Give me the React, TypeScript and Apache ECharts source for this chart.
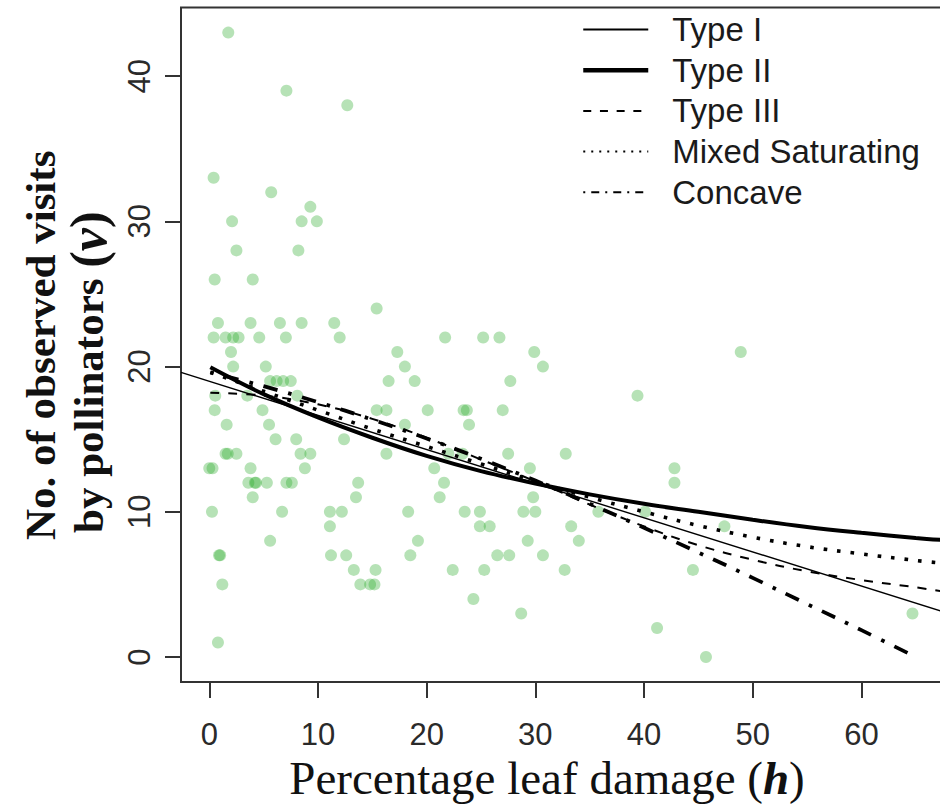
import React, { useEffect, useRef } from "react";
import * as echarts from "echarts";

// Observed data: percentage leaf damage (h) vs visits (v)
const damage = [
  1.75, 7.1, 12.7, 0.4, 5.7, 9.3, 2.1, 8.5, 9.9, 2.5, 8.2, 0.5, 4.0, 15.4,
  0.8, 3.8, 6.5, 8.5, 11.5, 0.4, 1.5, 2.2, 2.7, 4.6, 7.05, 12.0, 21.7, 25.2,
  26.7, 2.0, 17.3, 29.9, 48.9, 2.2, 5.2, 18.0, 30.7, 5.6, 6.2, 6.8, 7.5, 16.5,
  18.9, 27.7, 0.55, 3.5, 8.1, 39.4, 0.5, 4.9, 15.4, 16.3, 20.1, 23.4, 23.7,
  27.0, 1.6, 5.5, 18.0, 23.9, 6.1, 8.0, 12.4, 1.5, 1.7, 2.5, 8.4, 9.3, 16.3,
  22.0, 23.3, 27.5, 32.8, 0.0, 0.3, 3.8, 8.8, 20.7, 29.5, 42.8, 3.6, 4.2, 4.3,
  5.3, 7.1, 7.6, 13.7, 21.6, 42.8, 4.0, 13.5, 21.2, 29.8, 0.25, 6.7, 11.1,
  12.2, 18.3, 23.5, 24.9, 28.9, 30.0, 35.8, 40.1, 11.1, 24.9, 25.8, 33.3,
  47.4, 5.6, 19.2, 29.3, 34.0, 0.9, 1.0, 11.2, 12.6, 18.5, 26.5, 27.6, 30.7,
  13.3, 15.3, 22.4, 25.3, 32.7, 44.5, 1.2, 13.9, 14.8, 15.2, 24.3, 28.7, 64.7,
  41.2, 0.8, 45.7,
];
const visits = [
  43, 39, 38, 33, 32, 31, 30, 30, 30, 28, 28, 26, 26, 24,
  23, 23, 23, 23, 23, 22, 22, 22, 22, 22, 22, 22, 22, 22,
  22, 21, 21, 21, 21, 20, 20, 20, 20, 19, 19, 19, 19, 19,
  19, 19, 18, 18, 18, 18, 17, 17, 17, 17, 17, 17, 17,
  17, 16, 16, 16, 16, 15, 15, 15, 14, 14, 14, 14, 14, 14,
  14, 14, 14, 14, 13, 13, 13, 13, 13, 13, 13, 12, 12, 12,
  12, 12, 12, 12, 12, 12, 11, 11, 11, 11, 10, 10, 10,
  10, 10, 10, 10, 10, 10, 10, 10, 9, 9, 9, 9,
  9, 8, 8, 8, 8, 7, 7, 7, 7, 7, 7, 7, 7,
  6, 6, 6, 6, 6, 6, 5, 5, 5, 5, 4, 3, 3,
  2, 1, 0,
];

// Fitted curves
const typeIH = [-2.6, 67.6];
const typeIV = [19.6, 3.1];
const curveH = [0.1, 5, 10, 15, 20, 25, 30, 35, 40, 45, 50, 55, 60, 65, 67.6];
const typeIIV = [19.95, 18.1, 16.5, 15.1, 13.85, 12.8, 11.95, 11.2, 10.55, 10.0, 9.45, 8.95, 8.55, 8.2, 8.05];
const typeIIIV = [18.2, 18.0, 17.4, 16.4, 15.1, 13.6, 12.1, 10.5, 9.0, 7.7, 6.7, 5.9, 5.3, 4.8, 4.5];
const mixedV = [19.6, 18.3, 17.0, 15.7, 14.5, 13.3, 12.1, 11.0, 10.0, 9.05, 8.25, 7.6, 7.1, 6.65, 6.45];
const concaveH = [0.1, 5, 10, 15, 20, 25, 30, 35, 40, 45, 50, 55, 60, 65];
const concaveV = [19.6, 18.65, 17.55, 16.35, 15.05, 13.65, 12.15, 10.55, 8.9, 7.2, 5.45, 3.65, 1.85, 0.0];

const xTicks = [0, 10, 20, 30, 40, 50, 60];
const yTicks = [0, 10, 20, 30, 40];
const seriesNames = ["Type I", "Type II", "Type III", "Mixed Saturating", "Concave"];

const zip = (a: number[], b: number[]) => a.map((v, i) => [v, b[i]]);

export default function App() {
  const ref = useRef<HTMLDivElement>(null);
  useEffect(() => {
    if (!ref.current) return;
    const chart = echarts.init(ref.current, undefined, { renderer: "svg" });
    const axisColor = "#333";
    const labelFont = { fontFamily: "Liberation Sans", fontSize: 31, color: "#2a2a2a" };
    const lineBase = { type: "line", symbol: "none", showSymbol: false, clip: true, smooth: 0.4 };
    const hidden = { color: "rgba(0,0,0,0)", borderWidth: 0, opacity: 0 };
    chart.setOption({
      animation: false,
      grid: {
        left: 181,
        top: 7.6,
        right: -4,
        bottom: 126,
        show: true,
        borderColor: axisColor,
        borderWidth: 2,
        backgroundColor: "transparent",
        containLabel: false,
        outerBoundsMode: "none",
      },
      xAxis: {
        type: "value",
        min: -2.6,
        max: 67.6,
        axisLine: { show: false, onZero: false },
        splitLine: { show: false },
        axisTick: { show: true, length: 16, customValues: xTicks, lineStyle: { color: axisColor, width: 2 } },
        axisLabel: { ...labelFont, margin: 37, customValues: xTicks },
      },
      yAxis: {
        type: "value",
        min: -1.72,
        max: 44.72,
        axisLine: { show: false, onZero: false },
        splitLine: { show: false },
        axisTick: { show: true, length: 16, customValues: yTicks, lineStyle: { color: axisColor, width: 2 } },
        axisLabel: { ...labelFont, margin: 26, rotate: 90, customValues: yTicks },
      },
      legend: {
        orient: "vertical",
        left: 576,
        top: 8,
        itemWidth: 65,
        itemHeight: 14,
        itemGap: 7.7,
        textStyle: { fontFamily: "Liberation Sans", fontSize: 33, color: "#1a1a1a", padding: [0, 0, 0, 19] },
        data: [
          { name: seriesNames[0], itemStyle: hidden, lineStyle: { width: 2, type: "solid", color: "#000" } },
          { name: seriesNames[1], itemStyle: hidden, lineStyle: { width: 4.5, type: "solid", color: "#000" } },
          { name: seriesNames[2], itemStyle: hidden, lineStyle: { width: 2, type: [8, 8.7], color: "#000" } },
          { name: seriesNames[3], itemStyle: hidden, lineStyle: { width: 2, type: [2, 6], color: "#000" } },
          { name: seriesNames[4], itemStyle: hidden, lineStyle: { width: 2, type: [2, 6, 8, 6], color: "#000" } },
        ],
      },
      series: [
        {
          type: "scatter",
          name: "Observed",
          data: zip(damage, visits),
          symbolSize: 12,
          itemStyle: { color: "rgba(40,170,40,0.42)", borderWidth: 0 },
        },
        { ...lineBase, name: seriesNames[0], data: zip(typeIH, typeIV), smooth: false, lineStyle: { color: "#000", width: 1.4 } },
        { ...lineBase, name: seriesNames[1], data: zip(curveH, typeIIV), lineStyle: { color: "#000", width: 4 } },
        { ...lineBase, name: seriesNames[2], data: zip(curveH, typeIIIV), lineStyle: { color: "#000", width: 2, type: [9, 9] } },
        { ...lineBase, name: seriesNames[3], data: zip(curveH, mixedV), lineStyle: { color: "#000", width: 3.6, type: [3.6, 10] } },
        { ...lineBase, name: seriesNames[4], data: zip(concaveH, concaveV), lineStyle: { color: "#000", width: 3.8, type: [3.6, 11, 14.6, 11] } },
      ],
      graphic: [
        {
          type: "text",
          x: 547,
          y: 778,
          style: {
            text: "{t|Percentage leaf damage (}{h|h}{t|)}",
            align: "center",
            verticalAlign: "middle",
            fill: "#111",
            rich: {
              t: { fontFamily: "Liberation Serif", fontSize: 47, fill: "#111" },
              h: { fontFamily: "Liberation Serif", fontSize: 47, fontWeight: "bold", fontStyle: "italic", fill: "#111" },
            },
          },
        },
        {
          type: "text",
          x: 40,
          y: 540,
          rotation: Math.PI / 2,
          style: {
            text: "No. of observed visits",
            align: "left",
            verticalAlign: "middle",
            fill: "#111",
            font: 'bold 43px "Liberation Serif"',
          },
        },
        {
          type: "text",
          x: 88,
          y: 533,
          rotation: Math.PI / 2,
          style: {
            text: "{t|by pollinators }{p|(}{v|v}{p|)}",
            align: "left",
            verticalAlign: "middle",
            fill: "#111",
            rich: {
              t: { fontFamily: "Liberation Serif", fontSize: 43, fontWeight: "bold", fill: "#111" },
              p: { fontFamily: "Liberation Serif", fontSize: 50, fontWeight: "bold", fill: "#111" },
              v: { fontFamily: "Liberation Serif", fontSize: 52, fontWeight: "bold", fontStyle: "italic", fill: "#111" },
            },
          },
        },
      ],
    });
    return () => chart.dispose();
  }, []);
  return (
    <div
      ref={ref}
      style={{ position: "absolute", left: 0, top: 0, width: 940, height: 808, background: "#fff" }}
    />
  );
}
